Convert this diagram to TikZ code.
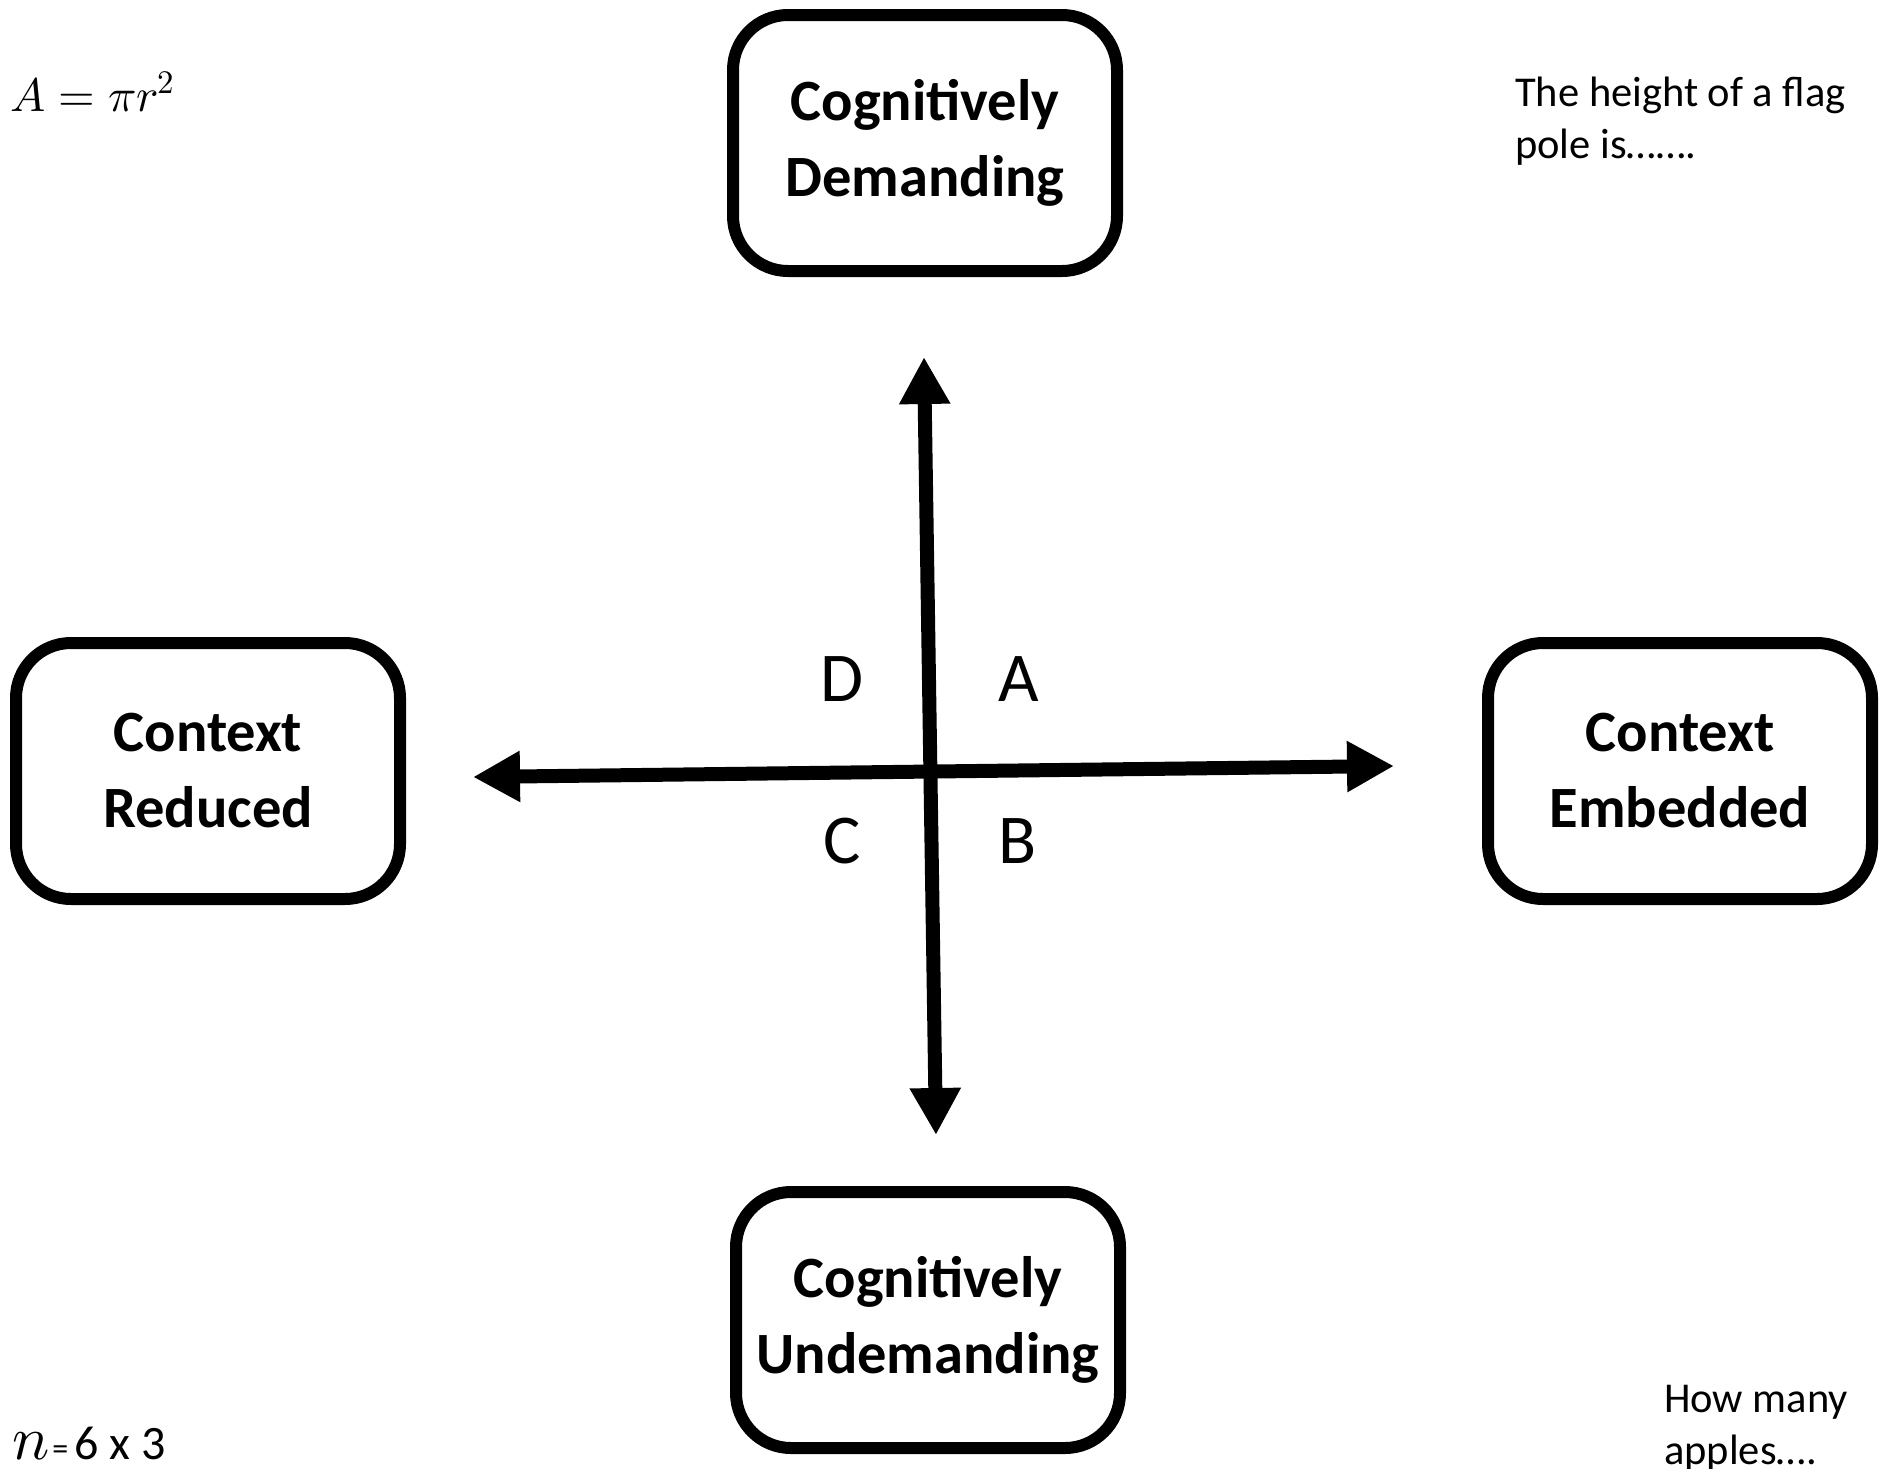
\documentclass[tikz,border=0pt]{standalone}
\usepackage{fontspec}
\usepackage{unicode-math}
\setmainfont{Carlito}
\usetikzlibrary{arrows.meta}
\tikzset{%
  axis/.style = {line width=14pt,{Triangle[width=48pt,length=47pt]}-{Triangle[width=48pt,length=47pt]}},
  box/.style = {rectangle,draw,line width=12pt,rounded corners=55pt,
        minimum width=384pt,minimum height=256pt,align=center,
        font=\fontsize{58.5}{76}\selectfont\bfseries},
  quad/.style = {font=\fontsize{70}{80}\selectfont,inner sep=0pt},
  note/.style = {anchor=base west,align=left,inner sep=0pt,
        font=\fontsize{42.5}{52}\selectfont}
}
\begin{document}
\begin{tikzpicture}[x=1pt,y=-1pt]
   \useasboundingbox (0,0) rectangle (1889,1468);
   \node[box] (demanding) at (925,143) {Cognitively\\Demanding};
   \node[box] (undemanding) at (928,1320) {Cognitively\\Undemanding};
   \node[box] (reduced) at (208,771) {Context\\Reduced};
   \node[box] (embedded) at (1680,771) {Context\\Embedded};

   \coordinate (north) at (924,357);
   \coordinate (south) at (936,1135);
   \coordinate (west) at (473,777);
   \coordinate (east) at (1394,766);
   \draw[axis] (south) -- (north);
   \draw[axis] (west) -- (east);

   \node[quad] (qa) at (1019,679) {A};
   \node[quad] (qb) at (1018,841) {B};
   \node[quad] (qc) at (842,841) {C};
   \node[quad] (qd) at (842,679) {D};

   % examples in the corners (base = last line)
   \node[note,font=\fontsize{47}{60}\selectfont] (area) at (10,111) {$A=\pi r^2$};
   \node[note] (flag) at (1515,158) {The height of a flag\\pole is…….};
   \node[note] (apples) at (1664,1464) {How many\\apples….};
   \node[note,font=\fontsize{48}{56}\selectfont] (times) at (12,1459) {{\fontsize{62}{64}\selectfont$n$}\kern3pt{\fontsize{32}{36}\selectfont=}\kern6pt6 x 3};
\end{tikzpicture}
\end{document}
